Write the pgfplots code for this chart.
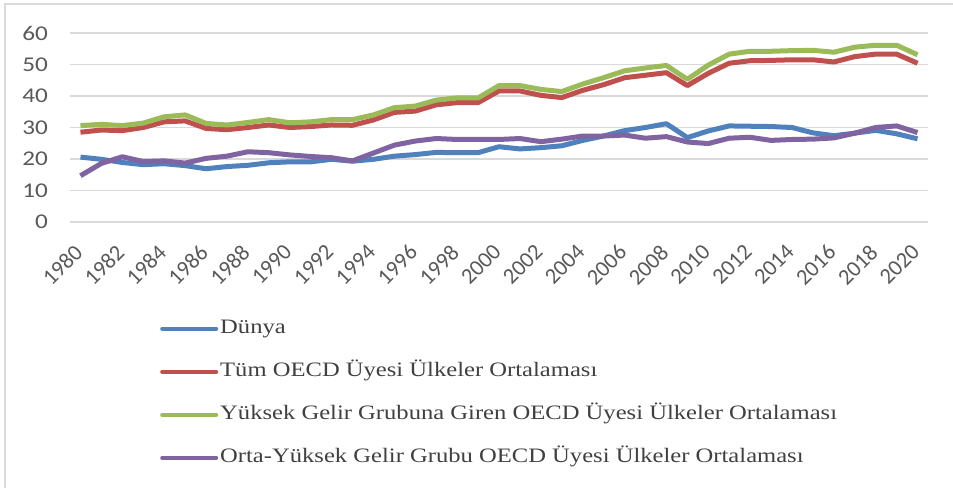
\documentclass[border=0pt]{standalone}
\usepackage{pgfplots}
\usepackage{pgfplotstable}
\pgfplotsset{compat=1.18}
\usepackage{fontspec}
\setmainfont{Liberation Serif}
\newfontfamily\tickfont{Carlito}[FakeStretch=1.2]
\newfontfamily\tickfontx{Carlito}
\newfontfamily\legfont{Liberation Serif}[FakeStretch=1.2]
\definecolor{cblue}{HTML}{4F81BD}
\definecolor{cred}{HTML}{C0504D}
\definecolor{cgreen}{HTML}{9BBB59}
\definecolor{cpurple}{HTML}{8064A2}
\definecolor{gridc}{HTML}{D9D9D9}
\definecolor{tickc}{HTML}{595959}
\definecolor{legc}{HTML}{404040}

\pgfplotstableread{
year dunya oecd yuksek orta
1980 20.6 28.5 30.6 14.7
1981 19.9 29.2 31.0 18.6
1982 18.9 29.0 30.6 20.7
1983 18.2 30.0 31.4 19.2
1984 18.5 31.8 33.4 19.4
1985 17.9 32.1 34.0 18.7
1986 16.9 29.7 31.3 20.2
1987 17.6 29.3 30.8 20.9
1988 18.0 30.0 31.6 22.3
1989 18.8 30.8 32.5 22.0
1990 19.1 30.0 31.5 21.3
1991 19.1 30.3 31.8 20.8
1992 19.9 30.8 32.5 20.4
1993 19.3 30.7 32.5 19.4
1994 19.9 32.4 34.0 21.9
1995 20.9 34.8 36.3 24.4
1996 21.4 35.2 36.8 25.7
1997 22.1 37.2 38.7 26.5
1998 22.0 37.9 39.4 26.2
1999 22.0 37.9 39.4 26.2
2000 23.9 41.6 43.3 26.2
2001 23.2 41.6 43.3 26.5
2002 23.6 40.2 42.1 25.5
2003 24.2 39.5 41.4 26.3
2004 25.9 41.8 43.8 27.3
2005 27.3 43.6 45.8 27.3
2006 29.0 45.8 48.0 27.6
2007 30.0 46.6 48.9 26.6
2008 31.2 47.4 49.7 27.1
2009 26.8 43.3 45.3 25.4
2010 28.9 47.2 49.8 24.9
2011 30.5 50.4 53.3 26.6
2012 30.4 51.2 54.2 26.9
2013 30.3 51.3 54.2 25.9
2014 30.0 51.5 54.4 26.2
2015 28.3 51.5 54.5 26.3
2016 27.4 50.8 53.9 26.7
2017 28.2 52.5 55.5 28.2
2018 29.1 53.3 56.1 30.0
2019 28.0 53.3 56.1 30.5
2020 26.4 50.4 53.1 28.4
}\datatable

\begin{document}
\begin{tikzpicture}
\path[use as bounding box] (0,0) rectangle (953bp,488bp);
\draw[gridc, line width=1.2bp] (5bp,0) -- (5bp,484bp) -- (953bp,484bp);
\begin{axis}[
  at={(70bp,266bp)}, anchor=south west,
  scale only axis, width=858bp, height=189bp,
  xmin=1979.5, xmax=2020.5, ymin=0, ymax=60,
  xtick={1980,1982,...,2020}, ytick={0,10,...,60},
  axis line style={draw=none}, tick style={draw=none},
  ymajorgrids, grid style={gridc, line width=1.2bp},
  /pgf/number format/assume math mode=true,
  /pgf/number format/1000 sep={},
  yticklabel style={font=\tickfont\fontsize{21bp}{25bp}\selectfont, text=tickc, inner sep=0pt, xshift=-22bp},
  xticklabel style={font=\tickfontx\fontsize{22.5bp}{26bp}\selectfont, text=tickc, rotate=45, anchor=east, inner sep=0pt, xshift=-20bp, yshift=-17.4bp},
  legend style={at={(0.1049,-0.51)}, anchor=north west, draw=none, fill=none, inner sep=0pt,
    font=\legfont\fontsize{20.5bp}{24bp}\selectfont, text=legc,
    nodes={inner sep=0pt, text height=15bp, text depth=5bp}, row sep=23.1bp, column sep=2bp},
  legend cell align=left,
  legend image code/.code={\draw[#1, line width=4bp, line cap=round] (0bp,0bp) -- (54bp,0bp);},
  every axis plot/.append style={line width=5bp, line join=round, no markers},
]
\addplot[cblue] table[x=year, y=dunya] {\datatable};
\addlegendentry{Dünya}
\addplot[cred] table[x=year, y=oecd] {\datatable};
\addlegendentry{Tüm OECD Üyesi Ülkeler Ortalaması}
\addplot[cgreen] table[x=year, y=yuksek] {\datatable};
\addlegendentry{Yüksek Gelir Grubuna Giren OECD Üyesi Ülkeler Ortalaması}
\addplot[cpurple] table[x=year, y=orta] {\datatable};
\addlegendentry{Orta-Yüksek Gelir Grubu OECD Üyesi Ülkeler Ortalaması}
\end{axis}
\end{tikzpicture}
\end{document}
